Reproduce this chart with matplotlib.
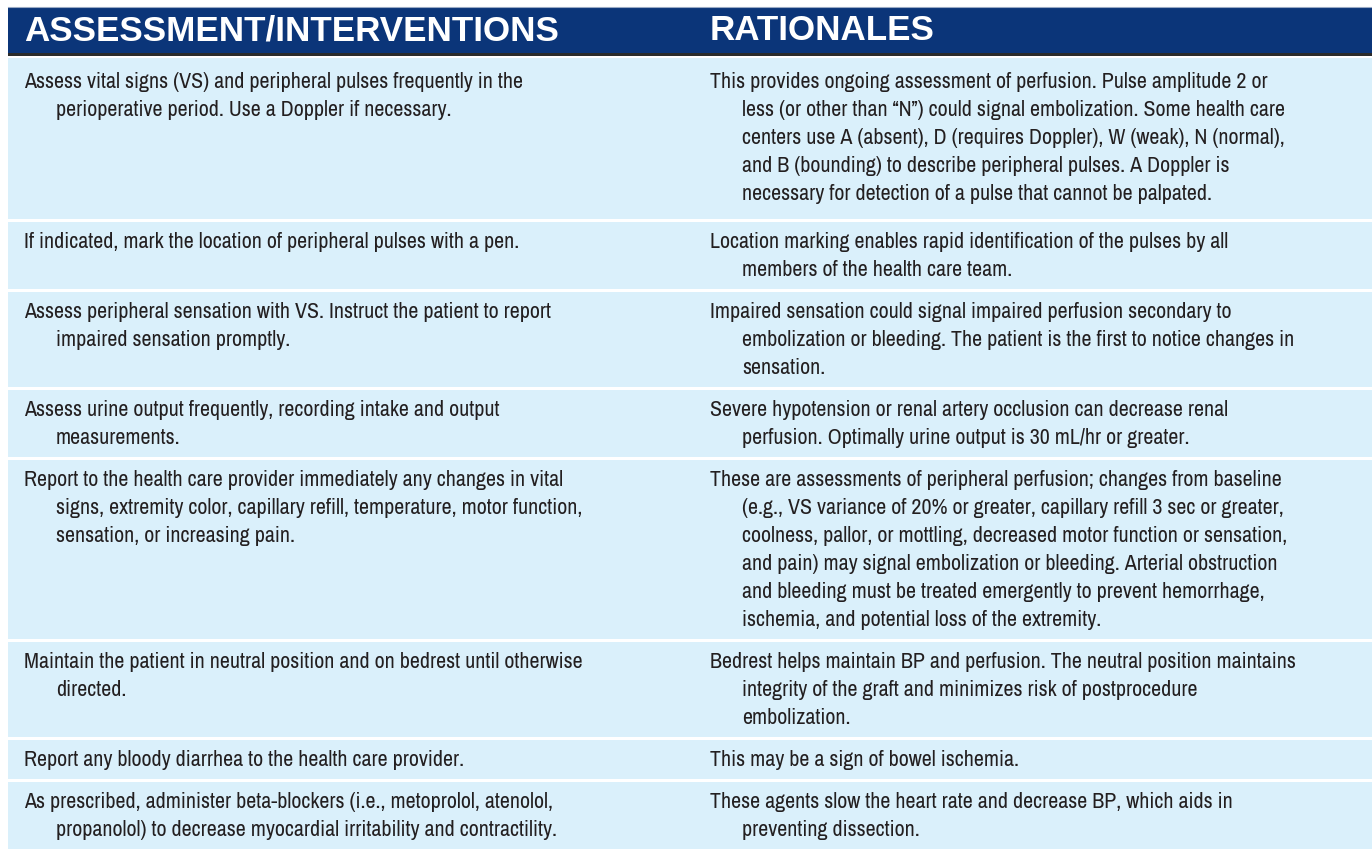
import matplotlib
matplotlib.use("Agg")
import matplotlib.pyplot as plt

# table content, one list of wrapped lines per cell
headers = ["ASSESSMENT/INTERVENTIONS", "RATIONALES"]
interventions = [
    ["Assess vital signs (VS) and peripheral pulses frequently in the",
     "perioperative period. Use a Doppler if necessary."],
    ["If indicated, mark the location of peripheral pulses with a pen."],
    ["Assess peripheral sensation with VS. Instruct the patient to report",
     "impaired sensation promptly."],
    ["Assess urine output frequently, recording intake and output",
     "measurements."],
    ["Report to the health care provider immediately any changes in vital",
     "signs, extremity color, capillary refill, temperature, motor function,",
     "sensation, or increasing pain."],
    ["Maintain the patient in neutral position and on bedrest until otherwise",
     "directed."],
    ["Report any bloody diarrhea to the health care provider."],
    ["As prescribed, administer beta-blockers (i.e., metoprolol, atenolol,",
     "propanolol) to decrease myocardial irritability and contractility."],
]
rationales = [
    ["This provides ongoing assessment of perfusion. Pulse amplitude 2 or",
     "less (or other than \u201cN\u201d) could signal embolization. Some health care",
     "centers use A (absent), D (requires Doppler), W (weak), N (normal),",
     "and B (bounding) to describe peripheral pulses. A Doppler is",
     "necessary for detection of a pulse that cannot be palpated."],
    ["Location marking enables rapid identification of the pulses by all",
     "members of the health care team."],
    ["Impaired sensation could signal impaired perfusion secondary to",
     "embolization or bleeding. The patient is the first to notice changes in",
     "sensation."],
    ["Severe hypotension or renal artery occlusion can decrease renal",
     "perfusion. Optimally urine output is 30 mL/hr or greater."],
    ["These are assessments of peripheral perfusion; changes from baseline",
     "(e.g., VS variance of 20% or greater, capillary refill 3 sec or greater,",
     "coolness, pallor, or mottling, decreased motor function or sensation,",
     "and pain) may signal embolization or bleeding. Arterial obstruction",
     "and bleeding must be treated emergently to prevent hemorrhage,",
     "ischemia, and potential loss of the extremity."],
    ["Bedrest helps maintain BP and perfusion. The neutral position maintains",
     "integrity of the graft and minimizes risk of postprocedure",
     "embolization."],
    ["This may be a sign of bowel ischemia."],
    ["These agents slow the heart rate and decrease BP, which aids in",
     "preventing dissection."],
]

W, H = 1372, 850
NAVY = "#0b3579"
ROW_BG = "#daf0fb"
INK = "#231f20"
BODY_FONT = ["Archivo Narrow", "Roboto Condensed", "DejaVu Sans"]
HEAD_FONT = ["Liberation Sans", "DejaVu Sans"]

fig = plt.figure(figsize=(W / 100, H / 100), dpi=100)
ax = fig.add_axes([0, 0, 1, 1])
ax.set_xlim(0, W)
ax.set_ylim(H, 0)
ax.axis("off")
renderer = fig.canvas.get_renderer()


def fit_size(s, family, weight, target):
    t = ax.text(0, 0, s, fontsize=10, family=family, weight=weight)
    w = t.get_window_extent(renderer).width
    t.remove()
    return 10 * target / w


head_size = fit_size(headers[0], HEAD_FONT, "bold", 530)
body_size = fit_size(rationales[0][0], BODY_FONT, "normal", 558)

# header band
left, right = 8, W
head_top, head_bot = 7, 56
ax.barh((head_top + head_bot) / 2 - 1.5, right - left, left=left, height=head_bot - head_top - 3,
        color=NAVY, align="center")
ax.barh(head_bot - 1.5, right - left, left=left, height=3, color="#2b2b2b")
ax.plot([left, right], [head_top, head_top], color="#9aaac4", lw=0.8)
col_x = [24, 710]
for x, s in zip(col_x, headers):
    ax.text(x, (head_top + head_bot) / 2 - 1, s, fontsize=head_size, family=HEAD_FONT,
            weight="bold", color="white", va="center", ha="left")

# body rows
line_h, pad = 28, 42
n_lines = [max(len(a), len(b)) for a, b in zip(interventions, rationales)]
heights = [pad + (n - 1) * line_h for n in n_lines]
heights[0] += (H - head_bot) - sum(heights)
indent = 32
y = head_bot
for i, (h, a, b) in enumerate(zip(heights, interventions, rationales)):
    ax.barh(y + h / 2, right - left, left=left, height=h - 3, color=ROW_BG)
    first = y + (26 if i == 0 else 22)
    for x0, cell in zip(col_x, (a, b)):
        for k, line in enumerate(cell):
            ax.text(x0 + (indent if k else 0), first + k * line_h, line,
                    fontsize=body_size, family=BODY_FONT, color=INK,
                    va="center", ha="left")
    y += h

fig.savefig("out.png", dpi=100)
